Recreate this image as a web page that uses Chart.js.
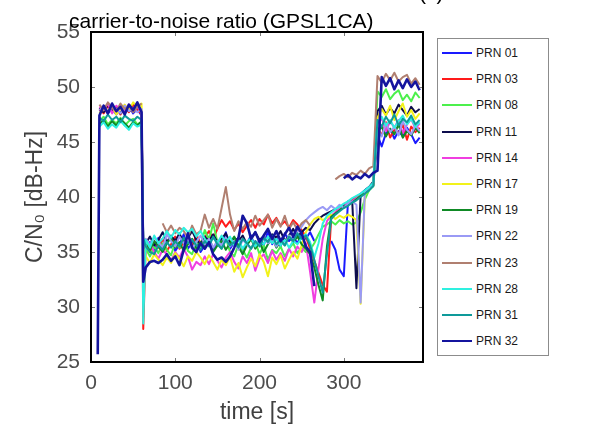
<!DOCTYPE html>
<html>
<head>
<meta charset="utf-8">
<title>carrier-to-noise ratio</title>
<script src="https://cdn.jsdelivr.net/npm/chart.js@4.4.0/dist/chart.umd.min.js"></script>
<style>
  body { margin: 0; background: #fff; }
  #wrap { position: relative; width: 605px; height: 426px; overflow: hidden;
          font-family: "Liberation Sans", Arial, sans-serif; }
  #title { position: absolute; left: 69px; top: 9px; font-size: 21px; line-height: 24px;
           color: #000; white-space: nowrap; }
  #panel { position: absolute; left: 419px; top: -19px; font-size: 21px; line-height: 24px; color: #000; }
  #legend { position: absolute; left: 437px; top: 38px; width: 112px; height: 318px;
            box-sizing: border-box; border: 1px solid #8c8c8c; padding-top: 1px; background: #fff; }
  .row { height: 26.2px; display: flex; align-items: center; font-size: 12px; color: #1a1a1a; }
  .swatch { display: inline-block; width: 30px; height: 2px; margin: 0 4px 0 4px; }
</style>
</head>
<body>
<div id="wrap">
  <canvas id="myChart" width="605" height="426"></canvas>
  <div id="title">carrier-to-noise ratio (GPSL1CA)</div>
  <div id="panel">(c)</div>
  <div id="legend"></div>
</div>
<script>
// time axis [s] shared by all satellites
const time = [8,10,15,20,25,30,35,40,45,50,55,60,62,65,70,75,80,85,90,95,100,105,110,115,120,125,130,135,140,145,150,
  155,160,165,170,175,180,185,190,195,200,205,210,215,220,225,230,235,240,245,250,255,260,265,270,275,280,285,290,295,
  300,305,310,315,320,325,330,335,340,345,350,355,360,365,370,375,380,385,390];

const xTicks = [0, 100, 200, 300];
const yTicks = [25, 30, 35, 40, 45, 50, 55];

const labels = ['PRN 01','PRN 03','PRN 08','PRN 11','PRN 14','PRN 17','PRN 19','PRN 22','PRN 23','PRN 28','PRN 31','PRN 32'];
const colors = ['#1a1aff','#ff1a1a','#4cf04c','#0d0d4d','#f03ee0','#f2f21a','#0f8a25','#9a9af5','#b07f70','#2ef0e0','#0e9a9a','#14149e'];

// C/N0 values [dB-Hz], one array per satellite
const prn01 = [null,47.8,48.2,47.6,48.0,47.5,48.1,47.7,48.3,47.6,48.0,47.4,35.8,
  35.2,35.9,35.0,36.3,35.4,35.8,36.4,35.1,35.7,36.6,35.3,35.9,36.2,35.0,35.6,36.4,35.2,36.0,35.5,36.8,
  35.3,35.9,36.3,35.1,35.8,36.5,35.4,36.1,35.6,36.9,35.7,36.3,35.5,36.7,36.0,36.4,35.8,36.6,36.2,
  36.8,36.0,null,null,null,36.0,35.2,33.4,32.8,39.6,39.8,40.0,40.3,40.6,40.9,41.3,
  45.6,44.6,45.8,46.2,45.3,46.0,45.5,46.3,45.7,44.9,45.4];
const prn03 = [null,48.0,47.6,48.3,47.8,48.1,47.5,48.2,47.7,48.4,47.9,47.6,28.0,
  35.6,35.0,36.0,35.4,36.2,35.1,35.7,36.4,35.3,35.9,36.1,35.5,36.6,35.8,36.3,36.9,36.2,37.1,37.9,37.3,
  37.8,37.0,37.6,36.8,37.4,37.9,37.2,38.0,37.5,38.4,37.6,38.1,37.4,37.8,37.2,37.9,37.5,37.0,36.4,
  35.3,34.2,33.1,32.0,31.4,38.0,38.6,38.9,39.2,39.4,39.7,40.0,40.2,40.5,40.8,41.2,
  46.3,45.6,46.8,45.4,46.1,45.8,46.6,45.2,46.4,45.9,46.3];
const prn08 = [null,46.9,47.3,46.6,47.0,46.7,47.2,46.5,46.9,47.1,46.6,46.8,35.6,
  35.3,34.6,35.5,34.9,35.8,35.2,34.7,35.9,35.4,36.2,35.1,34.8,36.0,35.5,37.0,36.1,37.6,35.9,35.3,36.3,
  35.0,34.6,35.7,35.2,34.5,35.4,35.9,34.8,35.6,34.3,35.2,34.9,35.5,34.6,35.3,35.8,34.9,35.4,35.0,
  35.2,35.8,36.6,37.3,37.5,37.8,37.5,37.9,37.6,37.8,37.5,37.7,38.6,39.8,40.6,41.0,
  49.6,49.1,49.8,48.9,49.4,49.7,48.8,49.3,48.7,49.5,49.0];
const prn11 = [null,48.1,47.7,48.4,47.9,48.2,47.6,48.3,47.8,48.0,48.4,47.7,35.0,
  35.8,36.4,35.6,36.1,36.8,35.9,36.5,36.0,36.7,35.8,36.3,36.9,36.1,35.7,36.4,36.0,36.6,35.9,36.2,36.7,
  35.8,36.3,36.0,36.5,35.7,36.2,36.8,36.1,36.4,35.9,36.6,36.3,36.9,36.0,36.5,37.1,36.4,36.8,37.2,
  37.0,37.6,38.0,38.3,38.5,38.7,38.9,39.0,39.2,39.4,39.6,31.7,40.2,40.6,40.9,41.4,
  47.8,48.3,47.5,48.1,47.6,48.4,47.9,47.4,48.2,47.7,48.0];
const prn14 = [null,48.2,47.9,48.5,47.6,48.3,48.0,47.7,48.4,47.9,48.2,47.8,36.0,
  35.4,35.8,35.0,34.4,35.2,34.8,34.2,35.0,34.5,35.3,34.6,33.4,34.1,33.8,34.6,33.9,34.8,34.2,33.6,34.5,
  35.0,34.1,33.5,34.6,34.0,34.9,33.3,34.4,34.8,34.0,35.1,34.3,34.9,34.2,35.3,34.6,35.5,35.0,35.8,
  33.2,30.4,33.5,36.2,37.8,38.3,38.6,39.0,39.1,39.5,39.6,39.9,40.1,40.4,40.8,41.1,
  46.5,47.2,46.0,46.9,46.3,47.0,45.8,46.6,47.1,46.2,46.7];
const prn17 = [null,47.6,48.1,47.8,48.3,47.5,48.0,48.4,47.9,48.6,48.2,48.5,35.4,
  34.6,34.0,34.8,34.3,33.8,34.5,34.0,34.9,34.4,33.7,34.6,34.2,35.0,34.5,33.9,34.7,34.1,33.4,34.3,33.8,
  34.6,33.2,34.0,32.7,33.6,34.4,33.7,34.8,34.1,32.8,34.5,33.9,34.7,33.5,34.3,35.0,34.4,35.6,36.8,
  37.5,38.0,38.2,37.9,38.1,38.4,38.0,38.3,38.1,38.4,38.2,37.9,30.3,40.2,40.7,41.2,
  47.2,48.0,47.4,48.3,47.0,47.8,48.5,47.3,47.9,47.1,47.6];
const prn19 = [null,46.6,47.0,46.4,46.9,46.5,47.1,46.7,46.3,46.8,46.5,46.9,35.5,
  35.9,35.2,36.0,35.5,35.0,35.8,36.3,35.4,35.9,35.1,35.7,36.2,35.3,35.9,35.5,36.1,35.0,35.6,36.0,35.2,
  35.8,36.4,35.5,34.8,35.6,36.2,35.3,35.9,35.0,35.7,36.3,35.4,36.0,35.6,36.5,35.9,36.4,35.7,35.3,
  34.8,33.6,32.0,30.6,35.5,38.2,38.5,38.8,39.1,39.3,39.5,39.8,40.1,40.4,40.7,41.0,
  45.9,46.4,45.5,46.2,45.7,46.6,45.4,46.0,45.6,46.3,45.8];
const prn22 = [null,47.9,48.3,47.7,48.2,48.0,47.6,48.3,47.8,48.1,47.7,48.0,35.8,
  36.2,35.6,36.3,35.9,35.4,36.6,36.0,35.5,36.4,35.8,36.1,35.3,35.9,36.5,35.7,36.2,35.4,36.0,35.6,36.3,
  35.5,35.9,35.2,36.1,35.7,35.3,36.0,35.6,36.4,35.8,36.2,35.5,36.1,35.7,36.5,36.0,36.8,37.3,37.9,
  38.3,38.6,38.9,39.1,38.8,39.2,38.9,39.3,39.0,39.4,39.6,39.3,30.4,40.5,40.8,41.2,
  46.2,45.5,46.7,45.9,46.4,45.6,46.9,46.1,45.7,46.5,46.0];
const prn23 = [null,48.4,47.9,48.6,48.1,47.8,48.5,48.0,48.3,47.7,48.2,48.5,null,
  null,null,null,null,37.6,36.8,37.4,36.7,37.2,36.9,36.3,37.4,36.6,36.9,38.4,37.2,38.0,37.1,39.0,40.9,
  38.4,36.9,37.8,37.1,37.7,37.3,38.3,37.4,37.9,38.4,37.2,38.0,37.3,38.3,37.1,37.7,37.0,37.6,37.9,
  37.4,null,null,null,null,null,41.6,41.9,42.1,41.8,42.2,42.0,42.4,42.1,42.6,42.8,
  51.0,50.4,51.2,50.6,51.3,50.5,50.9,51.1,50.3,50.8,50.2];
const prn28 = [null,46.4,46.8,46.2,46.6,46.3,46.9,46.5,46.1,46.7,46.4,46.6,28.5,
  36.1,35.4,36.5,35.8,36.2,36.9,36.3,37.0,36.6,37.2,36.8,37.1,36.4,36.9,36.2,35.7,36.3,35.8,36.5,35.9,
  36.4,35.6,36.1,35.3,35.9,36.3,35.5,36.0,35.7,36.4,35.8,36.2,35.6,36.1,35.4,36.0,35.7,36.3,36.6,
  35.9,34.5,35.8,37.6,38.3,38.6,38.9,39.1,39.4,39.6,39.9,40.1,40.3,40.6,40.9,41.3,
  46.8,47.3,46.5,47.0,46.3,46.9,47.4,46.6,47.1,46.4,46.8];
const prn31 = [null,47.2,46.9,47.5,47.0,47.3,46.8,47.4,47.1,46.9,47.3,47.0,36.3,
  35.5,35.0,34.8,35.6,35.2,35.9,35.4,36.0,35.5,36.3,35.8,36.1,35.6,35.2,36.0,35.5,36.4,35.7,35.3,36.1,
  35.6,35.9,35.4,36.2,35.8,35.3,36.0,35.5,36.3,35.9,36.5,35.7,36.1,35.6,36.4,36.0,36.7,36.2,36.5,
  35.6,34.3,32.8,31.3,34.8,38.0,38.4,38.7,39.0,39.2,39.5,39.7,40.0,40.3,40.6,41.0,
  47.0,46.4,47.3,46.7,47.5,46.5,47.1,46.8,47.4,46.6,47.0];
const prn32 = [25.7,47.4,48.3,47.6,48.5,47.8,48.2,47.5,48.4,47.9,48.6,47.7,32.3,
  33.6,34.1,34.2,34.0,34.3,34.8,34.2,34.6,33.8,35.2,36.7,35.4,35.0,35.8,35.3,35.9,34.8,34.3,34.5,34.1,
  34.6,35.4,36.3,38.3,37.6,36.2,36.8,35.9,36.5,37.1,36.2,36.9,36.0,36.6,37.2,36.4,37.3,36.7,35.5,
  35.0,31.9,null,null,null,null,null,null,41.7,42.0,41.6,41.9,41.7,42.1,41.8,42.2,42.4,
  50.9,50.1,50.8,49.8,50.6,49.9,50.7,50.0,50.5,49.7,50.3];

const series = [prn01, prn03, prn08, prn11, prn14, prn17, prn19, prn22, prn23, prn28, prn31, prn32];

// MATLAB style box with inward ticks
const boxPlugin = {
    id: 'box',
    afterDatasetsDraw(chart) {
        const {ctx, chartArea: a, scales: {x, y}} = chart;
        ctx.save();
        ctx.strokeStyle = '#7a7a7a';
        ctx.lineWidth = 1;
        ctx.beginPath();
        xTicks.forEach(v => {
            const px = Math.round(x.getPixelForValue(v)) + 0.5;
            ctx.moveTo(px, a.bottom); ctx.lineTo(px, a.bottom - 4);
            ctx.moveTo(px, a.top); ctx.lineTo(px, a.top + 4);
        });
        yTicks.forEach(v => {
            const py = Math.round(y.getPixelForValue(v)) + 0.5;
            ctx.moveTo(a.left, py); ctx.lineTo(a.left + 4, py);
            ctx.moveTo(a.right, py); ctx.lineTo(a.right - 4, py);
        });
        ctx.stroke();
        ctx.strokeStyle = '#000';
        ctx.lineWidth = 2;
        ctx.strokeRect(a.left, a.top, a.right - a.left, a.bottom - a.top);
        ctx.restore();
    }
};

Chart.defaults.font.family = '"Liberation Sans", Arial, sans-serif';

const ctx = document.getElementById('myChart');
const myChart = new Chart(ctx, {
    type: 'line',
    data: {
        datasets: series.map((vals, i) => ({
            label: labels[i],
            data: vals.map((v, j) => ({x: time[j], y: v})),
            borderColor: colors[i],
            backgroundColor: colors[i],
            borderWidth: i === 11 ? 2.6 : 2,
            pointRadius: 0,
            tension: 0,
            spanGaps: false,
            borderJoinStyle: 'round',
            order: series.length - 1 - i        // later PRN drawn on top
        }))
    },
    options: {
        responsive: false,
        animation: false,
        events: [],
        layout: { padding: { left: 18, right: 182, top: 32, bottom: 0 } },
        scales: {
            x: {
                type: 'linear',
                min: 0,
                max: 394,
                afterBuildTicks: scale => { scale.ticks = xTicks.map(v => ({value: v})); },
                afterFit: scale => { scale.height = 64; },
                grid: { display: false, drawTicks: false },
                border: { display: false },
                ticks: { color: '#4d4d4d', font: { size: 21 }, padding: 9 },
                title: {
                    display: true,
                    text: 'time [s]',
                    color: '#404040',
                    font: { size: 23 },
                    padding: { top: 0, bottom: 0 }
                }
            },
            y: {
                min: 25,
                max: 55,
                afterBuildTicks: scale => { scale.ticks = yTicks.map(v => ({value: v})); },
                afterFit: scale => { scale.width = 73; },
                grid: { display: false, drawTicks: false },
                border: { display: false },
                ticks: { color: '#4d4d4d', font: { size: 21 }, padding: 11 },
                title: {
                    display: true,
                    text: 'C/N₀ [dB-Hz]',
                    color: '#404040',
                    font: { size: 23 },
                    padding: { top: 4, bottom: 0 }
                }
            }
        },
        plugins: {
            legend: { display: false },
            tooltip: { enabled: false }
        }
    },
    plugins: [boxPlugin]
});

// legend box built from the same labels / colours
const legendBox = document.getElementById('legend');
labels.forEach((name, i) => {
    const row = document.createElement('div');
    row.className = 'row';
    const sw = document.createElement('span');
    sw.className = 'swatch';
    sw.style.background = colors[i];
    row.appendChild(sw);
    row.appendChild(document.createTextNode(name));
    legendBox.appendChild(row);
});
</script>
</body>
</html>
